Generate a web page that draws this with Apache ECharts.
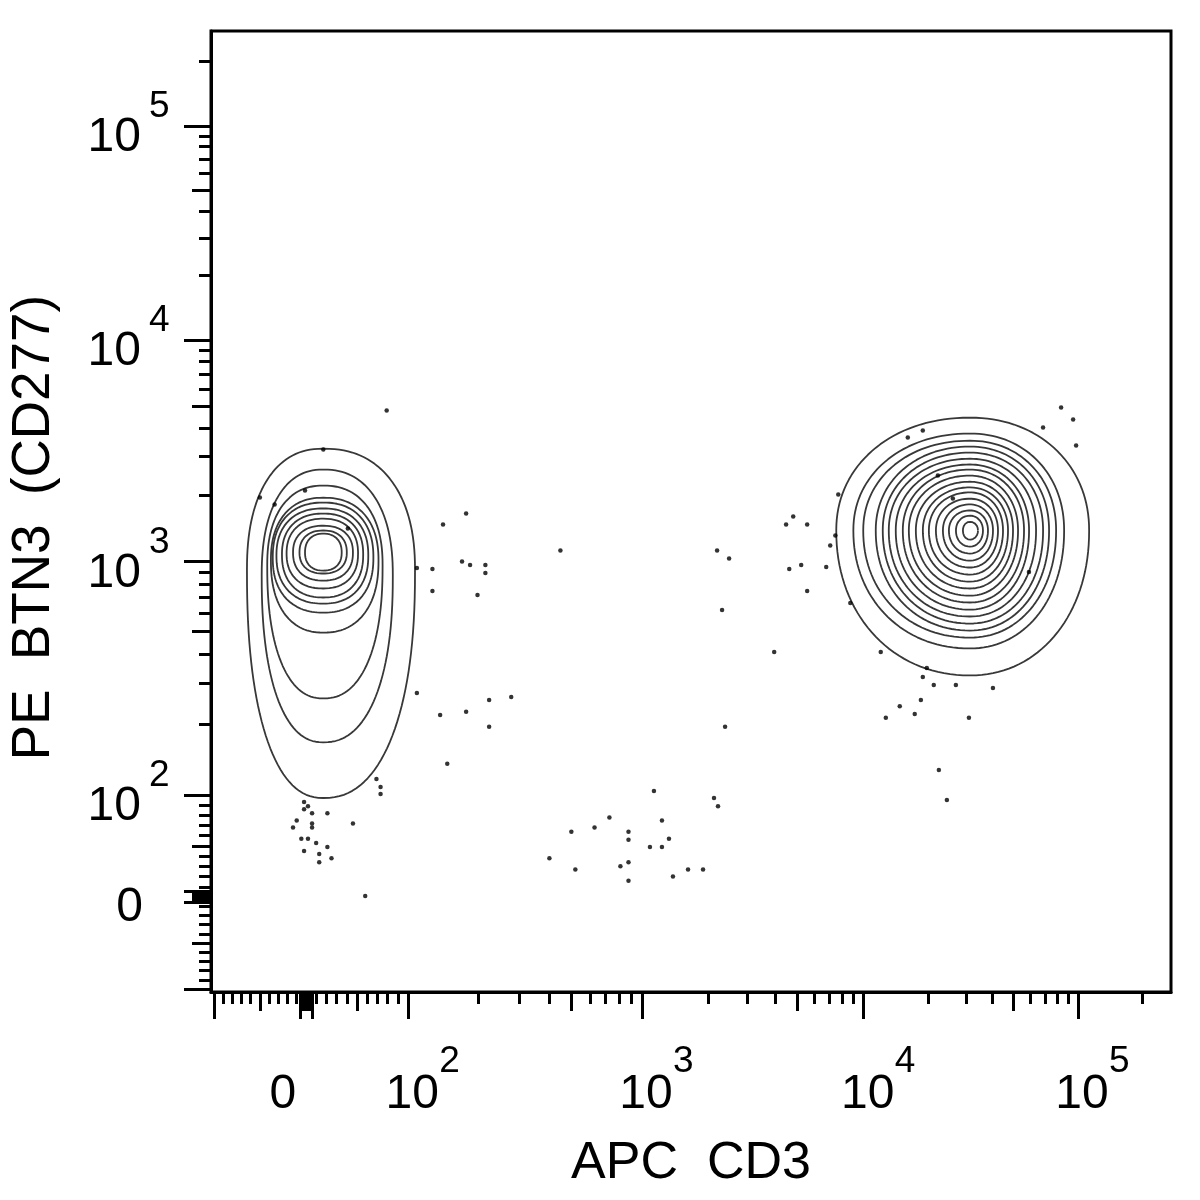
<!DOCTYPE html>
<html>
<head>
<meta charset="utf-8">
<script src="https://cdn.jsdelivr.net/npm/echarts@6/dist/echarts.min.js"></script>
<style>
  html, body { margin: 0; padding: 0; background: #fff; }
  #chart { width: 1200px; height: 1200px; }
</style>
</head>
<body>
<div id="chart"></div>
<script>
// ---- biexponential display: widths (in display units) of each segment ----
const NEG_W = 0.43;      // -100 .. 0
const LIN_W = 0.477;     // 0 .. 100
const DEC_W = [1.091, 1.035, 1.0]; // 10^2..10^3, 10^3..10^4, 10^4 and up

function T(v) {
  if (v < 0) return v / 100 * NEG_W;
  if (v < 100) return v / 100 * LIN_W;
  if (v < 1000) return LIN_W + Math.log10(v / 100) * DEC_W[0];
  if (v < 10000) return LIN_W + DEC_W[0] + Math.log10(v / 1000) * DEC_W[1];
  return LIN_W + DEC_W[0] + DEC_W[1] + Math.log10(v / 10000) * DEC_W[2];
}

const X_RANGE = [-0.443, 4.037];
const Y_RANGE = [-0.444, 4.047];

// ---- ticks (real units) ----
const majorTicks = [-100, -6, 6, 100, 1000, 10000, 100000];
const mediumTicks = [-50, -3, 0, 3, 50, 500, 5000, 50000];
const minorTicks = [-90, -80, -70, -60, -40, -30, -20, -10, 10, 20, 30, 40, 60, 70, 80, 90,
  200, 300, 400, 600, 700, 800, 900, 2000, 3000, 4000, 6000, 7000, 8000, 9000,
  20000, 30000, 40000, 60000, 70000, 80000, 90000, 200000];

// ---- tick labels: value and decade exponent (-1 = plain "0") ----
const labelValues = [0, 100, 1000, 10000, 100000];
const labelExponents = [-1, 2, 3, 4, 5];

// ---- contour levels, left population (outer -> inner) ----
const leftPopCenterX = 17;
const leftPopMidY = [914, 870, 960, 1009, 1041, 1063, 1074, 1086, 1097, 1097, 1097];
const leftPopTop = [3230, 2600, 2200, 1940, 1845, 1735, 1645, 1560, 1450, 1380, 1335];
const leftPopBottom = [97, 168, 259, 496, 604, 660, 701, 766, 828, 888, 914];
const leftPopLow = [-64, -48, -42, -38, -36, -32, -26, -21, -14, -7, -1];
const leftPopHigh = [107, 85, 75, 71, 66, 61, 56, 51, 46, 40, 35];

// ---- contour levels, right population (outer -> inner) ----
const rightPopCenter = [31300, 1380];
const rightPopLow = [7520, 8980, 9950, 11380, 12270, 13090, 14110, 15220, 16240, 17510, 18880, 20140, 21720, 23420, 24980, 26940, 29030];
const rightPopHigh = [112700, 86150, 79040, 73280, 68710, 63720, 59100, 55990, 52500, 49740, 47140, 44670, 42330, 40110, 38010, 36020, 34140];
const rightPopTop = [4460, 3780, 3510, 3300, 3100, 2910, 2740, 2600, 2440, 2290, 2160, 2050, 1920, 1810, 1700, 1610, 1510];
const rightPopBottom = [325, 424, 472, 506, 542, 581, 622, 667, 714, 766, 820, 879, 942, 1009, 1086, 1167, 1255];

// ---- single events outside the contours ----
const eventsX = [17, 79, 109, 109, 127, 127, 141, 177, 170, 184, 214, 214, 198, 137, 177, 222, 276, 222, 147, 69, 73, 73,
  -50, -1, -34, 41,
  -2, 2, -2, 6, 21, -10, 6, 6, -14, 46, -5, 2, 10, 21, -2, 13, 25, 13, 58,
  1133, 2113, 2203, 726, 1231, 499, 627, 876, 876, 1324, 1087, 1231, 402, 519, 809, 876, 876, 1380, 1614, 1886,
  448, 2182, 2472, 2298, 3947, 2371, 4467, 4809, 5559, 5226, 4615, 5559, 7063, 6775, 7678, 7450, 8700,
  83400, 94900, 68700, 98000, 12010, 19700, 18870, 21230, 26920, 40090, 30970, 12680, 14730, 17300, 18480, 22420, 24440,
  16060, 18870, 22180, 26060, 59040];
const eventsY = [3200, 4800, 937, 273, 928, 747, 1469, 1647, 1000, 965, 965, 892, 718, 220, 227, 255, 263, 196, 136, 117, 108, 101,
  1945, 2090, 1808, 1409,
  93, 89, 86, 82, 82, 75, 72, 68, 68, 72, 57, 57, 53, 49, 45, 42, 38, 34, 1,
  104, 97, 89, 78, 75, 64, 68, 64, 56, 57, 49, 49, 38, 27, 30, 34, 16, 20, 27, 27,
  1121, 1121, 1031, 619, 409, 196, 1469, 1596, 1469, 965, 928, 747, 1181, 946, 2005, 1310, 664,
  4955, 4375, 4030, 3339, 409, 350, 320, 296, 296, 287, 214, 214, 240, 222, 255, 128, 95,
  3628, 3899, 2444, 1923, 901];

const FONT = '"Liberation Sans", Arial, Helvetica, sans-serif';

// closed contour through the four extreme points, in display units
function contour(cx, cy, lo, hi, top, bot, p) {
  const pts = [];
  const n = 140;
  for (let i = 0; i <= n; i++) {
    const a = 2 * Math.PI * i / n;
    const c = Math.cos(a), s = Math.sin(a);
    const fx = Math.sign(c) * Math.pow(Math.abs(c), 2 / p);
    const fy = Math.sign(s) * Math.pow(Math.abs(s), 2 / p);
    const x = cx + fx * (c >= 0 ? T(hi) - cx : cx - T(lo));
    const y = cy + fy * (s >= 0 ? T(top) - cy : cy - T(bot));
    pts.push([x, y]);
  }
  return pts;
}

const contourSeries = [];
leftPopTop.forEach((t, i) => {
  contourSeries.push(contour(T(leftPopCenterX), T(leftPopMidY[i]), leftPopLow[i], leftPopHigh[i], t, leftPopBottom[i], 2.3));
});
rightPopTop.forEach((t, i) => {
  contourSeries.push(contour(T(rightPopCenter[0]), T(rightPopCenter[1]), rightPopLow[i], rightPopHigh[i], t, rightPopBottom[i], 2.1));
});

function xAxisWith(ticks, len, main) {
  return {
    type: 'value', min: X_RANGE[0], max: X_RANGE[1], position: 'bottom',
    axisLine: { show: main, onZero: false, lineStyle: { color: '#000', width: 3 } },
    axisTick: { show: true, customValues: ticks.map(T), length: len, lineStyle: { color: '#000', width: 3 } },
    axisLabel: { show: false }, splitLine: { show: false },
    name: main ? 'APC  CD3' : '', nameLocation: 'middle', nameGap: 146,
    nameTextStyle: { fontSize: 52, fontFamily: FONT, color: '#000' }
  };
}
function yAxisWith(ticks, len, main) {
  return {
    type: 'value', min: Y_RANGE[0], max: Y_RANGE[1], position: 'left',
    axisLine: { show: main, onZero: false, lineStyle: { color: '#000', width: 3 } },
    axisTick: { show: true, customValues: ticks.map(T), length: len, lineStyle: { color: '#000', width: 3 } },
    axisLabel: { show: false }, splitLine: { show: false },
    name: main ? 'PE  BTN3  (CD277)' : '', nameLocation: 'middle', nameGap: 150, nameRotate: 90,
    nameTextStyle: { fontSize: 53, fontFamily: FONT, color: '#000', padding: [0, 32, 0, 0] }
  };
}

const chart = echarts.init(document.getElementById('chart'), null, { renderer: 'canvas' });

const option = {
  animation: false,
  backgroundColor: '#fff',
  grid: {
    left: 211, top: 31, width: 960, height: 961,
    show: true, borderColor: '#000', borderWidth: 3, backgroundColor: '#fff',
    outerBoundsMode: 'none', containLabel: false
  },
  xAxis: [xAxisWith(majorTicks, 27, true), xAxisWith(mediumTicks, 19, false), xAxisWith(minorTicks, 12, false)],
  yAxis: [yAxisWith(majorTicks, 27, true), yAxisWith(mediumTicks, 19, false), yAxisWith(minorTicks, 12, false)],
  series: [
    ...contourSeries.map(d => ({
      type: 'line', data: d, showSymbol: false, symbol: 'none', silent: true,
      lineStyle: { color: '#383838', width: 1.8 }, z: 2
    })),
    {
      type: 'scatter', symbol: 'circle', symbolSize: 4.5, silent: true,
      itemStyle: { color: '#000' }, z: 3,
      data: eventsX.map((x, i) => [T(x), T(eventsY[i])])
    },
    {
      // x tick labels
      type: 'custom', silent: true, clip: false,
      data: labelValues.map((v, i) => [T(v), labelExponents[i]]),
      renderItem: function (params, api) {
        const p = api.coord([api.value(0), Y_RANGE[0]]);
        const e = api.value(1);
        if (e < 0) {
          return { type: 'text', style: { text: '0', x: p[0] - 23, y: p[1] + 103, font: '48px ' + FONT, align: 'center', verticalAlign: 'middle', fill: '#000' } };
        }
        return { type: 'group', children: [
          { type: 'text', style: { text: '10', x: p[0] + 4, y: p[1] + 103, font: '48px ' + FONT, align: 'center', verticalAlign: 'middle', fill: '#000' } },
          { type: 'text', style: { text: String(e), x: p[0] + 31, y: p[1] + 70, font: '37px ' + FONT, align: 'left', verticalAlign: 'middle', fill: '#000' } }
        ] };
      }
    },
    {
      // y tick labels
      type: 'custom', silent: true, clip: false,
      data: labelValues.map((v, i) => [T(v), labelExponents[i]]),
      renderItem: function (params, api) {
        const p = api.coord([X_RANGE[0], api.value(0)]);
        const e = api.value(1);
        if (e < 0) {
          return { type: 'text', style: { text: '0', x: p[0] - 68, y: p[1] + 11, font: '48px ' + FONT, align: 'right', verticalAlign: 'middle', fill: '#000' } };
        }
        return { type: 'group', children: [
          { type: 'text', style: { text: '10', x: p[0] - 70, y: p[1] + 12, font: '48px ' + FONT, align: 'right', verticalAlign: 'middle', fill: '#000' } },
          { type: 'text', style: { text: String(e), x: p[0] - 62, y: p[1] - 19, font: '37px ' + FONT, align: 'left', verticalAlign: 'middle', fill: '#000' } }
        ] };
      }
    }
  ]
};

chart.setOption(option);
</script>
</body>
</html>
